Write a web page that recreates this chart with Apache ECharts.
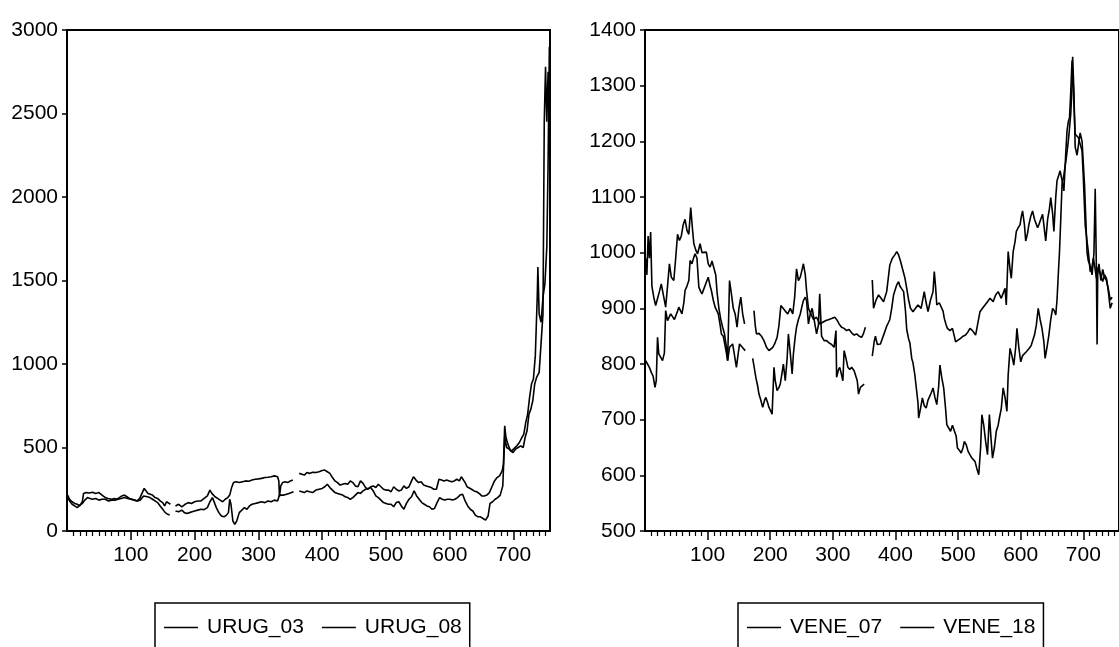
<!DOCTYPE html>
<html>
<head>
<meta charset="utf-8">
<script src="https://cdn.jsdelivr.net/npm/echarts@6/dist/echarts.min.js"></script>
<style>
html,body{margin:0;padding:0;background:#fff;}
#chart{width:1119px;height:647px;}
</style>
</head>
<body>
<div id="chart"></div>
<script>
// ---------- DATA (observation index, value); null value = gap ----------
const URUG_03 = [
[1,215],[4,190],[8,175],[12,165],[16,160],[20,150],[24,175],[26,225],[30,230],[35,228],[40,232],[45,225],[50,230],[55,215],[60,200],[64,195],[67,185],[70,190],[74,195],[78,190],[82,200],[86,210],[90,215],[94,205],[98,195],[102,190],[106,185],[110,180],[114,195],[118,230],[121,255],[124,240],[127,225],[130,230],[134,215],[138,200],[142,195],[146,180],[150,170],[153,150],[156,175],[160,165],[162,160],[165,null],
[170,150],[175,160],[180,145],[185,160],[190,170],[195,165],[200,175],[205,180],[210,180],[215,195],[220,210],[224,245],[227,225],[232,205],[236,195],[240,185],[244,175],[248,190],[252,200],[255,215],[258,260],[261,290],[265,295],[270,290],[275,295],[280,300],[285,298],[290,305],[295,310],[300,312],[305,315],[310,320],[315,322],[320,325],[325,330],[330,325],[332,300],[333,205],[335,270],[338,290],[342,295],[346,290],[350,300],[354,305],[358,null],
[364,345],[368,340],[372,335],[376,350],[380,345],[385,352],[390,350],[395,355],[400,362],[404,365],[408,355],[412,345],[416,320],[420,300],[424,290],[428,275],[432,280],[436,285],[440,280],[444,300],[448,290],[452,270],[456,265],[460,300],[464,285],[468,260],[472,250],[476,265],[480,270],[484,260],[488,280],[492,265],[496,250],[500,245],[504,245],[508,235],[512,265],[516,250],[520,240],[524,245],[528,270],[532,255],[536,265],[540,300],[543,325],[547,305],[551,290],[555,295],[559,275],[563,270],[567,265],[571,260],[575,250],[579,250],[583,310],[587,305],[591,300],[595,305],[599,300],[603,295],[607,300],[611,310],[615,300],[618,325],[621,315],[624,290],[627,265],[630,260],[634,250],[638,240],[642,235],[646,225],[650,210],[654,210],[658,215],[662,230],[666,265],[670,300],[674,320],[678,330],[682,360],[684,400],[686,630],[688,560],[691,520],[695,480],[699,470],[703,490],[707,500],[711,510],[715,500],[718,560],[721,600],[724,700],[727,730],[730,780],[733,880],[736,920],[740,950],[743,960],[746,1300],[748,2450],[750,2780],[752,2450],[754,2750],[756,2600]
];
const URUG_08 = [
[1,200],[4,180],[8,160],[12,150],[16,140],[20,155],[24,165],[28,185],[32,200],[36,195],[40,190],[45,195],[50,185],[55,190],[60,190],[65,180],[70,185],[75,185],[80,190],[85,195],[90,200],[95,195],[100,190],[105,185],[110,180],[115,185],[120,210],[123,220],[126,205],[130,200],[134,190],[138,180],[142,170],[146,150],[150,130],[154,110],[158,100],[161,95],[165,null],
[170,120],[175,115],[180,125],[184,110],[188,105],[192,110],[196,115],[200,120],[205,125],[210,130],[215,128],[220,140],[224,175],[228,200],[231,190],[234,140],[238,110],[242,90],[246,85],[250,95],[253,110],[255,190],[257,160],[260,60],[263,40],[266,60],[270,110],[274,125],[278,140],[282,130],[286,150],[290,160],[295,165],[300,170],[305,175],[310,170],[315,180],[320,175],[325,185],[330,180],[333,215],[336,210],[340,215],[344,220],[348,225],[352,230],[355,235],[358,null],
[364,240],[368,235],[372,230],[376,240],[380,235],[385,230],[390,245],[395,250],[400,255],[404,265],[408,280],[412,260],[416,245],[420,230],[424,225],[428,220],[432,215],[436,205],[440,200],[444,190],[448,200],[452,215],[456,230],[460,225],[464,240],[468,250],[472,255],[476,260],[480,240],[484,210],[488,200],[492,185],[496,170],[500,165],[504,160],[508,160],[512,145],[516,170],[520,175],[524,150],[528,130],[532,165],[536,190],[540,205],[544,240],[548,210],[552,190],[556,170],[560,160],[564,150],[568,145],[572,130],[576,135],[580,170],[584,200],[588,190],[592,185],[596,190],[600,190],[604,185],[608,190],[612,200],[616,215],[620,220],[624,180],[628,150],[632,130],[636,120],[640,95],[644,85],[648,85],[652,75],[656,65],[660,90],[663,165],[667,175],[671,190],[675,200],[679,215],[683,270],[686,560],[689,500],[693,490],[697,480],[701,495],[705,510],[709,530],[713,560],[716,580],[719,650],[722,700],[725,800],[728,880],[731,910],[734,1050],[737,1400],[738,1580],[740,1300],[743,1250],[746,1400],[749,1480],[752,1700],[754,2200],[756,2900]
];
const VENE_07 = [
[1,990],[3,960],[5,1030],[7,990],[9,1037],[11,940],[14,920],[17,905],[20,902],[23,930],[26,944],[29,926],[33,902],[36,940],[39,980],[42,956],[46,950],[49,990],[52,1033],[55,1022],[58,1030],[61,1050],[64,1060],[67,1040],[70,1033],[73,1081],[76,1040],[78,1016],[81,1005],[84,998],[88,1016],[91,1000],[94,998],[98,1001],[101,980],[104,974],[107,985],[110,986],[113,960],[115,930],[118,900],[121,880],[124,866],[127,854],[130,830],[132,806],[135,950],[138,926],[141,900],[144,890],[147,866],[150,900],[153,920],[156,890],[159,872],[165,null],
[174,896],[176,870],[178,854],[182,855],[186,850],[190,842],[194,830],[198,824],[201,824],[204,830],[207,836],[211,848],[214,870],[217,905],[220,902],[224,895],[228,890],[232,900],[236,890],[239,920],[242,971],[245,950],[248,956],[251,970],[253,980],[256,960],[258,932],[261,900],[265,890],[269,880],[274,884],[279,872],[284,875],[289,878],[294,880],[299,882],[303,884],[306,880],[310,872],[314,866],[318,864],[322,860],[326,862],[330,856],[334,852],[338,854],[342,850],[346,848],[349,855],[352,866],[357,null],
[363,951],[365,900],[369,915],[373,924],[377,918],[381,912],[386,930],[391,978],[395,990],[399,996],[402,1002],[405,996],[408,985],[411,972],[415,955],[418,936],[421,915],[424,900],[428,894],[432,900],[436,906],[441,900],[446,930],[449,910],[452,894],[456,915],[460,930],[462,966],[464,940],[466,906],[470,910],[473,912],[476,895],[478,882],[481,870],[483,864],[487,860],[491,864],[494,850],[496,840],[500,843],[504,846],[508,850],[512,852],[516,858],[519,864],[523,860],[528,852],[531,870],[535,894],[539,900],[543,906],[547,912],[551,918],[556,912],[560,924],[564,930],[569,918],[573,930],[575,936],[577,906],[580,1002],[583,970],[585,954],[588,1002],[591,1020],[593,1038],[596,1045],[599,1050],[601,1065],[603,1075],[606,1050],[608,1021],[611,1035],[613,1050],[616,1065],[619,1075],[622,1060],[624,1057],[627,1045],[629,1050],[632,1060],[635,1069],[638,1040],[640,1021],[643,1060],[646,1080],[648,1099],[651,1070],[653,1038],[656,1100],[658,1129],[661,1140],[663,1147],[666,1130],[669,1111],[672,1180],[674,1219],[676,1235],[678,1243],[680,1290],[682,1345],[684,1300],[685,1267],[687,1213],[690,1210],[692,1207],[695,1195],[698,1183],[700,1135],[703,1050],[706,1020],[708,1002],[711,966],[714,975],[716,990],[719,970],[721,954],[724,975],[726,966],[729,955],[731,948],[734,960],[737,954],[740,930],[743,900],[746,910]
];
const VENE_18 = [
[1,806],[4,800],[7,794],[10,785],[13,778],[16,758],[18,770],[20,848],[22,818],[25,818],[28,806],[31,820],[33,896],[36,878],[38,880],[41,890],[44,890],[47,880],[49,878],[52,895],[54,902],[57,895],[59,890],[62,910],[64,932],[67,940],[70,950],[72,986],[75,980],[78,992],[80,998],[83,990],[86,938],[89,930],[91,926],[94,935],[96,938],[99,950],[101,956],[104,940],[106,932],[109,915],[112,902],[115,895],[117,890],[120,870],[122,854],[125,850],[127,848],[130,820],[132,806],[135,830],[138,833],[140,836],[143,815],[146,794],[149,820],[151,836],[154,832],[157,830],[160,824],[165,null],
[172,810],[175,790],[177,776],[180,760],[182,746],[185,735],[188,722],[191,735],[193,740],[196,730],[198,722],[201,715],[203,710],[206,794],[208,770],[211,752],[214,758],[216,764],[219,785],[221,800],[224,770],[227,810],[229,854],[232,820],[235,782],[237,818],[240,850],[242,866],[245,880],[248,890],[251,905],[253,914],[256,920],[258,914],[261,872],[264,890],[267,900],[270,880],[274,854],[277,870],[279,926],[282,850],[286,842],[290,842],[294,838],[298,835],[302,830],[305,860],[306,776],[309,790],[311,794],[314,780],[316,770],[318,824],[321,810],[324,794],[327,790],[330,794],[334,788],[337,788],[339,770],[341,746],[344,758],[347,760],[350,764],[357,null],
[363,814],[366,840],[368,850],[371,835],[373,832],[376,836],[378,838],[382,855],[386,868],[389,875],[391,880],[394,900],[397,924],[400,935],[402,942],[405,948],[407,940],[410,935],[413,930],[416,895],[418,862],[421,845],[423,838],[426,810],[428,802],[431,780],[433,760],[436,730],[437,703],[440,720],[443,739],[446,725],[449,721],[452,735],[454,733],[457,748],[460,757],[463,740],[466,727],[469,760],[471,798],[474,775],[477,757],[480,720],[482,691],[485,685],[488,679],[491,690],[494,691],[497,670],[499,649],[502,645],[505,640],[508,650],[510,661],[513,655],[516,643],[519,640],[522,631],[525,628],[527,625],[530,612],[533,601],[536,650],[538,709],[541,690],[544,661],[547,637],[550,709],[553,660],[555,631],[558,650],[561,679],[564,690],[566,703],[569,720],[572,757],[575,740],[578,715],[580,780],[583,828],[586,815],[589,798],[592,830],[594,864],[597,830],[600,804],[603,815],[606,816],[609,822],[612,826],[615,830],[617,834],[620,845],[622,852],[625,870],[628,900],[631,880],[634,864],[637,840],[639,810],[642,830],[645,852],[648,880],[651,900],[654,895],[656,888],[658,915],[660,960],[662,1002],[664,1060],[666,1122],[669,1140],[672,1163],[675,1190],[677,1211],[680,1250],[682,1298],[683,1352],[685,1290],[687,1190],[690,1175],[693,1200],[695,1215],[698,1200],[700,1160],[702,1120],[704,1060],[706,1000],[708,985],[710,980],[712,970],[714,960],[716,985],[717,1000],[719,1115],[720,1040],[721,960],[722,835],[723,960],[725,980],[728,950],[731,970],[734,955],[737,950],[740,935],[743,915],[746,920]
];
const OBS_MAX = 757;
const X_TICKS = [100, 200, 300, 400, 500, 600, 700];
const LEFT_Y = {min: 0, max: 3000, step: 500};
const RIGHT_Y = {min: 500, max: 1400, step: 100};
const LEGENDS = [['URUG_03', 'URUG_08'], ['VENE_07', 'VENE_18']];

// ---------- CHART ----------
const FONT = "'Liberation Sans', Arial, sans-serif";
const FS = 21;
const minorTicks = [];
for (let v = 10; v < OBS_MAX; v += 10) if (v % 100 !== 0) minorTicks.push(v);

function toData(arr) { return arr.map(p => [p[0], p[1] === null ? '-' : p[1]]); }

const grids = [
  {left: 67, top: 30, width: 483, height: 501},
  {left: 645, top: 30, width: 483, height: 501}
];

const xAxes = [], yAxes = [];
[0, 1].forEach(g => {
  xAxes.push({
    type: 'value', gridIndex: g, min: 0, max: OBS_MAX, position: 'bottom',
    splitLine: {show: false},
    axisLine: {show: true, lineStyle: {color: '#000', width: 2}},
    axisTick: {show: true, inside: false, length: 9, customValues: X_TICKS, lineStyle: {color: '#000', width: 1.5}},
    axisLabel: {show: true, customValues: X_TICKS, margin: 14, color: '#000', fontFamily: FONT, fontSize: FS,
                formatter: v => String(v)}
  });
  xAxes.push({
    type: 'value', gridIndex: g, min: 0, max: OBS_MAX, position: 'bottom',
    splitLine: {show: false},
    axisLine: {show: false},
    axisTick: {show: true, inside: false, length: 5, customValues: minorTicks, lineStyle: {color: '#000', width: 1.2}},
    axisLabel: {show: false}
  });
  const ys = g === 0 ? LEFT_Y : RIGHT_Y;
  yAxes.push({
    type: 'value', gridIndex: g, min: ys.min, max: ys.max, interval: ys.step,
    splitLine: {show: false},
    axisLine: {show: true, lineStyle: {color: '#000', width: 2}},
    axisTick: {show: true, inside: false, length: 5, lineStyle: {color: '#000', width: 1.5}},
    axisLabel: {show: true, margin: 9, color: '#000', fontFamily: FONT, fontSize: FS,
                formatter: v => String(v)}
  });
});

const lineStyle = {color: '#000', width: 1.6};
function mkSeries(name, arr, g) {
  return {
    name: name, type: 'line', xAxisIndex: g * 2, yAxisIndex: g,
    data: toData(arr), showSymbol: false, symbol: 'none', connectNulls: false,
    lineStyle: lineStyle, itemStyle: {color: '#000'}, animation: false, silent: true
  };
}

const legendBase = {
  top: 603, orient: 'horizontal', icon: 'rect', itemWidth: 34, itemHeight: 1.5, itemGap: 18,
  borderColor: '#000', borderWidth: 1.5, padding: [14, 8, 30, 9],
  textStyle: {color: '#000', fontFamily: FONT, fontSize: FS, padding: [0, 0, 0, 4]},
  selectedMode: false
};

const option = {
  backgroundColor: '#fff',
  animation: false,
  grid: grids.map(g => Object.assign({show: true, borderColor: '#000', borderWidth: 2, backgroundColor: 'transparent'}, g)),
  xAxis: xAxes,
  yAxis: yAxes,
  legend: [
    Object.assign({}, legendBase, {left: 155, data: LEGENDS[0]}),
    Object.assign({}, legendBase, {left: 738, data: LEGENDS[1]})
  ],
  series: [
    mkSeries(LEGENDS[0][0], URUG_03, 0),
    mkSeries(LEGENDS[0][1], URUG_08, 0),
    mkSeries(LEGENDS[1][0], VENE_07, 1),
    mkSeries(LEGENDS[1][1], VENE_18, 1)
  ]
};

const chart = echarts.init(document.getElementById('chart'), null, {renderer: 'canvas'});
chart.setOption(option);
</script>
</body>
</html>
